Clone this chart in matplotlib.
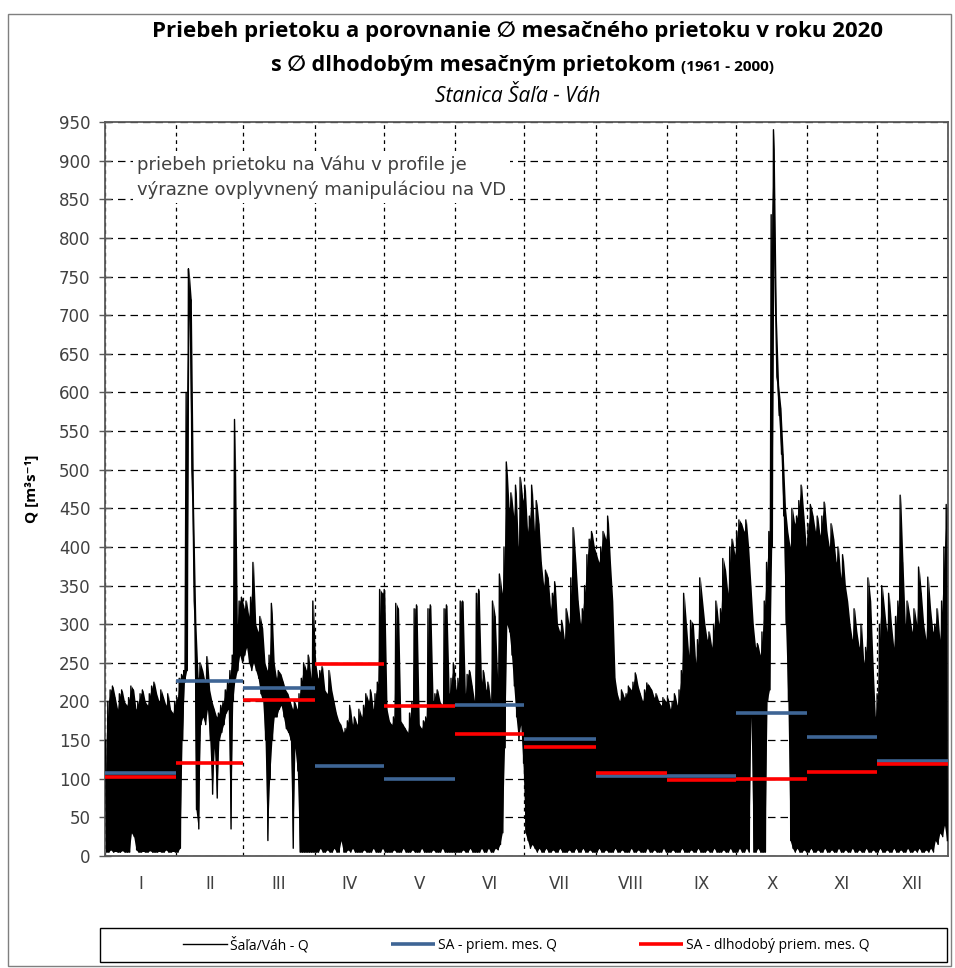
import numpy as np
import matplotlib.pyplot as plt
from matplotlib import font_manager
from matplotlib.patches import Rectangle

# months of 2020 and their lengths
months = ['I', 'II', 'III', 'IV', 'V', 'VI', 'VII', 'VIII', 'IX', 'X', 'XI', 'XII']
month_days = [31, 29, 31, 30, 31, 30, 31, 31, 30, 31, 30, 31]

# monthly mean discharge 2020 and long-term mean 1961-2000 [m3/s]
q_mean_2020 = [108, 227, 217, 117, 100, 196, 151, 103, 104, 185, 154, 123]
q_mean_longterm = [102, 121, 202, 249, 194, 158, 141, 107, 98, 100, 109, 119]

# daily max / min of the discharge at Sala
q_max = [
    150, 200, 215, 220, 205, 190, 210, 215, 200, 195, 205, 220, 215, 190, 200, 210,
    215, 200, 195, 210, 220, 225, 210, 200, 215, 205, 195, 210, 190, 185, 200,  # I
    205, 230, 235, 240, 600, 760, 720, 450, 300, 230, 250, 240, 225, 258, 215,
    200, 190, 180, 185, 195, 200, 215, 225, 240, 260, 565, 300, 330, 335,  # II
    320, 330, 310, 335, 380, 300, 290, 310, 295, 250, 240, 260, 327, 250, 230, 240,
    235, 225, 215, 210, 200, 190, 200, 190, 210, 230, 250, 240, 260, 230, 330,  # III
    250, 230, 240, 245, 215, 210, 240, 215, 200, 185, 175, 170, 160, 165, 175,
    195, 170, 180, 170, 190, 180, 195, 210, 200, 215, 190, 210, 225, 345, 340,  # IV
    345, 190, 175, 170, 180, 327, 320, 175, 170, 165, 160, 185, 200, 320, 325, 170,
    165, 175, 180, 320, 325, 200, 210, 215, 200, 195, 320, 325, 210, 230, 250,  # V
    215, 230, 330, 330, 210, 235, 240, 220, 200, 340, 345, 225, 240, 215, 225,
    200, 330, 310, 230, 365, 340, 400, 510, 450, 470, 440, 480, 400, 490, 460,  # VI
    480, 420, 440, 480, 420, 460, 430, 380, 350, 370, 360, 320, 340, 355, 300, 290,
    305, 280, 320, 300, 360, 425, 380, 330, 300, 320, 350, 390, 410, 420, 400,  # VII
    390, 380, 400, 420, 410, 440, 380, 330, 230, 210, 200, 215, 205, 210, 220, 215,
    225, 237, 220, 210, 200, 215, 224, 220, 215, 205, 210, 200, 195, 205, 200,  # VIII
    205, 190, 200, 210, 195, 215, 240, 340, 300, 260, 305, 300, 250, 280, 360,
    330, 300, 280, 290, 270, 300, 330, 300, 320, 385, 370, 340, 400, 410, 390,  # IX
    420, 435, 430, 420, 435, 400, 350, 300, 270, 275, 260, 290, 330, 380, 420, 830,
    940, 700, 610, 580, 520, 450, 420, 400, 450, 430, 440, 460, 480, 440, 400,  # X
    430, 455, 440, 420, 440, 415, 440, 458, 420, 400, 430, 410, 380, 400, 360,
    390, 350, 330, 300, 280, 320, 290, 270, 300, 250, 270, 360, 330, 250, 180,  # XI
    210, 300, 350, 320, 290, 340, 300, 270, 310, 330, 467, 380, 300, 330, 310, 290,
    320, 300, 374, 340, 300, 280, 361, 320, 290, 300, 320, 280, 330, 400, 455,  # XII
]
q_min = [
    5, 5, 8, 5, 6, 5, 5, 7, 5, 5, 5, 30, 25, 8, 5, 5,
    6, 5, 5, 7, 5, 5, 5, 6, 5, 5, 8, 5, 5, 6, 5,  # I
    5, 10, 150, 225, 240, 700, 500, 330, 60, 35, 170, 180, 170, 190, 150,
    80, 140, 75, 150, 160, 170, 185, 190, 35, 200, 230, 240, 260, 250,  # II
    260, 270, 250, 240, 250, 240, 230, 210, 200, 150, 20, 100, 150, 180, 180, 190,
    195, 180, 165, 160, 150, 10, 140, 110, 5, 5, 5, 5, 5, 5, 5,  # III
    5, 5, 10, 5, 5, 8, 5, 5, 10, 5, 5, 20, 5, 5, 8,
    5, 10, 5, 5, 5, 5, 8, 5, 5, 5, 10, 5, 5, 5, 10,  # IV
    5, 5, 5, 5, 8, 5, 5, 5, 10, 5, 5, 5, 8, 5, 5, 5,
    10, 5, 5, 5, 5, 8, 5, 5, 5, 10, 5, 5, 5, 5, 5,  # V
    5, 5, 5, 8, 5, 5, 10, 5, 5, 5, 5, 10, 5, 5, 10,
    5, 5, 10, 8, 15, 30, 140, 300, 290, 260, 220, 180, 150, 170, 120,  # VI
    30, 20, 10, 15, 10, 5, 10, 5, 5, 10, 5, 5, 8, 5, 5, 10,
    5, 5, 5, 8, 5, 5, 10, 5, 5, 10, 5, 5, 8, 5, 5,  # VII
    5, 10, 5, 5, 8, 5, 5, 5, 10, 5, 5, 8, 5, 5, 5, 10,
    5, 5, 8, 5, 5, 5, 10, 5, 5, 8, 5, 5, 5, 10, 5,  # VIII
    5, 5, 8, 5, 5, 5, 10, 5, 5, 5, 8, 5, 5, 10, 5,
    5, 5, 8, 5, 5, 10, 5, 5, 5, 8, 5, 5, 10, 5, 5,  # IX
    5, 10, 5, 5, 10, 5, 180, 5, 5, 10, 5, 5, 5, 200, 215, 400,
    790, 620, 570, 520, 440, 300, 200, 20, 10, 5, 10, 5, 5, 8, 5,  # X
    5, 10, 5, 5, 8, 5, 5, 10, 5, 5, 8, 5, 5, 10, 5,
    5, 8, 5, 5, 10, 5, 5, 8, 5, 5, 10, 5, 5, 8, 5,  # XI
    5, 10, 5, 5, 8, 5, 5, 10, 5, 5, 8, 5, 5, 10, 5, 5,
    8, 5, 10, 5, 5, 8, 5, 10, 5, 20, 15, 30, 25, 40, 20,  # XII
]

note = 'priebeh prietoku na Váhu v profile je\nvýrazne ovplyvnený manipuláciou na VD'


def pick_font(names):
    installed = {f.name for f in font_manager.fontManager.ttflist}
    for n in names:
        if n in installed:
            return n
    return 'DejaVu Sans'


narrow = pick_font(['Liberation Sans Narrow', 'Open Sans', 'Lato'])
plt.rcParams['font.family'] = [narrow, 'DejaVu Sans']

fig = plt.figure(figsize=(9.55, 9.68), dpi=100)
ax = fig.add_axes([0.1099, 0.1157, 0.8827, 0.7583])

# hourly-like oscillation drawn as a zigzag between daily max and min
days = np.arange(len(q_max))
x = np.empty(2 * len(days))
x[0::2] = days + 0.25
x[1::2] = days + 0.75
y = np.empty(2 * len(days))
y[0::2] = q_max
y[1::2] = q_min
ax.fill_between(days + 0.5, q_min, q_max, color='black', lw=0, zorder=3)
ax.plot(x, y, color='black', lw=1.0, label='Šaľa/Váh - Q', zorder=3)

edges = np.cumsum([0] + month_days)
ax.hlines(q_mean_2020, edges[:-1], edges[1:], color='#3E6595', lw=2.6,
          label='SA - priem. mes. Q', zorder=4)
ax.hlines(q_mean_longterm, edges[:-1], edges[1:], color='#FF0000', lw=2.6,
          label='SA - dlhodobý priem. mes. Q', zorder=5)

ax.set_xlim(0, edges[-1])
ax.set_ylim(0, 950)
ax.set_yticks(range(0, 951, 50))
ax.set_xticks(edges)
ax.set_xticklabels([])
ax.set_xticks((edges[:-1] + edges[1:]) / 2, minor=True)
ax.set_xticklabels(months, minor=True, family='DejaVu Sans', fontsize=12, color='#404040')
ax.tick_params(axis='x', which='both', length=0, pad=14)
ax.tick_params(axis='y', direction='inout', length=9, width=1, color='#595959',
               labelsize=12, labelcolor='#404040', pad=6)
for lab in ax.get_yticklabels():
    lab.set_family('DejaVu Sans')

ax.yaxis.grid(True, color='black', lw=0.9, linestyle=(0, (6, 4)))
ax.xaxis.grid(True, which='major', color='black', lw=0.9, linestyle=(0, (3, 3)))
ax.set_axisbelow(True)
for s in ax.spines.values():
    s.set_color('#595959')
    s.set_linewidth(1.3)

ax.set_ylabel('Q [m³s⁻¹]', fontsize=11, fontweight='bold', labelpad=14)

ax.text(14, 907, note, ha='left', va='top', fontsize=13, color='#404040',
        linespacing=1.45, zorder=6, family='DejaVu Sans',
        bbox=dict(facecolor='white', edgecolor='none', pad=3))

# titles
fig.text(518 / 955, 1 - 31 / 968, 'Priebeh prietoku a porovnanie ∅ mesačného prietoku v roku 2020',
         ha='center', va='center', fontsize=16, fontweight='bold')
fig.text(676 / 955, 1 - 65 / 968, 's ∅ dlhodobým mesačným prietokom',
         ha='right', va='center', fontsize=15.6, fontweight='bold')
fig.text(681 / 955, 1 - 67 / 968, '(1961 - 2000)',
         ha='left', va='center', fontsize=11, fontweight='bold')
fig.text(518 / 955, 1 - 97 / 968, 'Stanica Šaľa - Váh',
         ha='center', va='center', fontsize=15, style='italic')

# legend with its own frame spanning the plot width
fig.patches.append(Rectangle((100 / 955, 1 - 962 / 968), 847 / 955, 34 / 968,
                             transform=fig.transFigure, fill=False,
                             edgecolor='black', lw=1))
fig.legend(loc='center', bbox_to_anchor=(526 / 955, 1 - 945 / 968), ncol=3,
           frameon=False, fontsize=10, handlelength=3.2, handletextpad=0.2,
           columnspacing=5.9)
fig.patches.append(Rectangle((8 / 955, 1 - 966 / 968), 943 / 955, 952 / 968,
                             transform=fig.transFigure, fill=False,
                             edgecolor='#7F7F7F', lw=1))

fig.savefig('out.png', dpi=100)
